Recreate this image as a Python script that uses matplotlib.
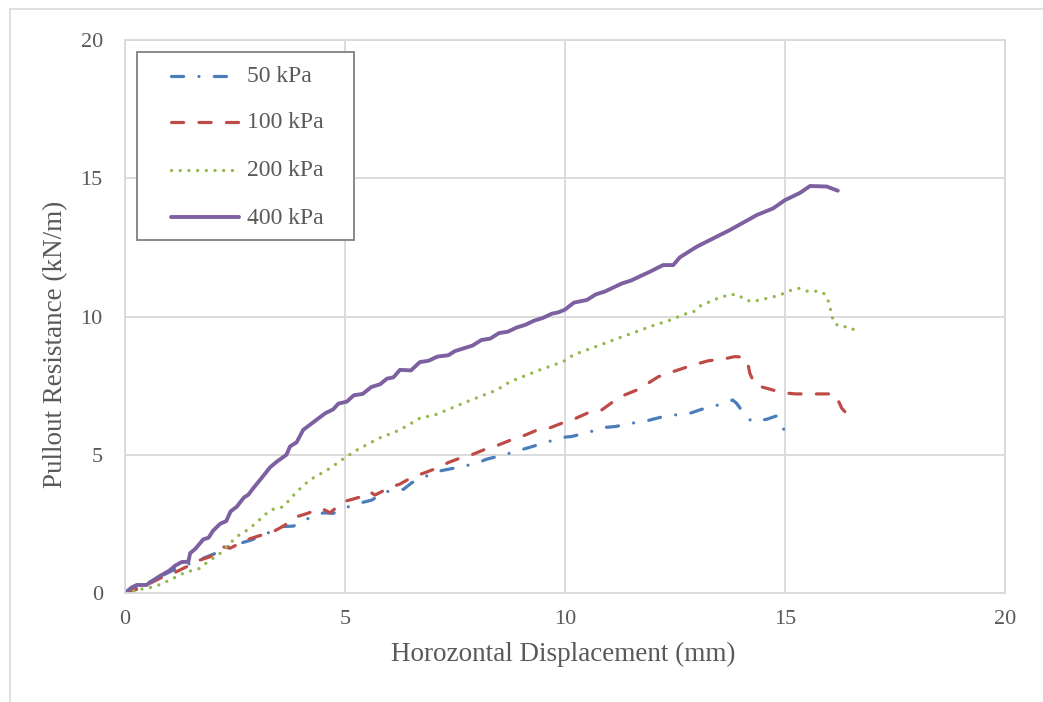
import matplotlib
matplotlib.use("Agg")
import matplotlib.pyplot as plt
from matplotlib.patches import Rectangle
from matplotlib.lines import Line2D

plt.rcParams["font.family"] = ["Liberation Serif", "DejaVu Serif"]

# Pullout test curves: horizontal displacement (mm) vs pullout resistance (kN/m)
disp_50 = [0.0, 0.49, 0.87, 1.10, 1.48, 1.86, 2.05, 2.23, 2.88, 3.26, 3.52, 3.83, 4.17, 4.51,
           4.73, 5.08, 5.38, 5.61, 5.91, 6.33, 6.52, 6.74, 7.08, 7.65, 7.99, 8.22, 8.60, 8.94,
           9.20, 9.55, 9.96, 10.15, 10.53, 10.91, 11.14, 11.52, 11.89, 12.16, 12.50, 12.84,
           13.10, 13.48, 13.81, 13.90, 14.01, 14.24, 14.58, 14.80, 14.85, 15.00]
res_50 = [0.0, 0.35, 0.65, 0.83, 1.07, 1.31, 1.43, 1.62, 1.92, 2.18, 2.40, 2.42, 2.70, 2.90,
          2.88, 3.12, 3.27, 3.36, 3.66, 3.75, 3.99, 4.15, 4.39, 4.57, 4.69, 4.84, 4.99, 5.15,
          5.27, 5.44, 5.63, 5.66, 5.81, 5.99, 6.02, 6.14, 6.24, 6.35, 6.44, 6.50,
          6.64, 6.80, 6.98, 6.86, 6.62, 6.20, 6.28, 6.40, 6.32, 5.83]

disp_100 = [0.0, 0.34, 0.64, 0.87, 1.17, 1.40, 1.70, 1.93, 2.23, 2.39, 2.76, 2.99, 3.37, 3.60,
            3.90, 4.09, 4.47, 4.66, 4.96, 5.19, 5.49, 5.57, 5.68, 6.02, 6.25, 6.55, 6.78, 7.08,
            7.35, 7.65, 7.88, 8.22, 8.48, 8.83, 9.05, 9.36, 9.62, 9.96, 10.19, 10.53, 10.80,
            11.06, 11.29, 11.63, 11.82, 12.12, 12.35, 12.69, 12.92, 13.26, 13.56, 13.86, 14.05,
            14.14, 14.20, 14.32, 14.66, 14.92, 15.23, 15.53, 15.87, 16.14, 16.17, 16.29, 16.36]
res_100 = [0.0, 0.17, 0.41, 0.59, 0.77, 0.95, 1.19, 1.31, 1.67, 1.62, 1.92, 2.04, 2.22, 2.42,
           2.76, 2.85, 3.06, 2.90, 3.30, 3.40, 3.54, 3.66, 3.54, 3.82, 3.94, 4.21, 4.33, 4.51,
           4.72, 4.90, 5.00, 5.22, 5.35, 5.57, 5.68, 5.89, 5.95, 6.16, 6.28, 6.52, 6.58,
           6.88, 7.12, 7.34, 7.52, 7.82, 7.95, 8.13, 8.25, 8.40, 8.45, 8.55, 8.53,
           8.43, 7.95, 7.52, 7.37, 7.25, 7.20, 7.20, 7.20, 7.20, 7.10, 6.68, 6.56]

disp_200 = [0.0, 0.34, 0.68, 1.02, 1.36, 1.70, 1.86, 2.16, 2.54, 2.84, 3.30, 3.60, 3.90, 4.20,
            4.66, 4.92, 5.27, 5.76, 6.25, 6.70, 7.08, 7.23, 7.77, 8.45, 8.75, 9.43, 9.96, 10.19,
            11.10, 12.00, 12.39, 12.73, 12.92, 13.07, 13.41, 13.75, 13.94, 14.09, 14.27, 14.62,
            14.81, 14.98, 15.15, 15.33, 15.49, 15.68, 15.87, 15.97, 16.02, 16.06, 16.12, 16.27,
            16.45, 16.61]
res_200 = [0.0, 0.13, 0.23, 0.47, 0.74, 0.89, 1.10, 1.43, 2.04, 2.34, 3.00, 3.12, 3.66, 4.09,
           4.51, 4.81, 5.17, 5.59, 5.90, 6.32, 6.46, 6.56, 6.92, 7.34, 7.64, 8.07, 8.37, 8.61,
           9.15, 9.67, 9.87, 10.09, 10.17, 10.38, 10.62, 10.80, 10.78, 10.60, 10.54, 10.67,
           10.74, 10.84, 10.96, 11.02, 10.92, 10.92, 10.86, 10.62, 10.36, 10.05, 9.75, 9.63,
           9.63, 9.48]

disp_400 = [0.0, 0.15, 0.27, 0.49, 0.60, 0.80, 1.00, 1.15, 1.29, 1.44, 1.48, 1.60, 1.78, 1.90,
            2.00, 2.16, 2.30, 2.40, 2.54, 2.70, 2.80, 2.92, 3.10, 3.30, 3.45, 3.67, 3.75, 3.90,
            4.05, 4.30, 4.55, 4.73, 4.85, 5.04, 5.20, 5.40, 5.60, 5.80, 5.95, 6.10, 6.25, 6.50,
            6.70, 6.90, 7.10, 7.35, 7.50, 7.70, 7.90, 8.10, 8.30, 8.50, 8.70, 8.90, 9.10, 9.30,
            9.50, 9.70, 9.85, 10.00, 10.20, 10.50, 10.70, 10.90, 11.10, 11.30, 11.50, 11.70,
            11.93, 12.23, 12.46, 12.61, 12.69, 12.99, 13.30, 13.75, 14.36, 14.73, 15.00, 15.34,
            15.57, 15.95, 16.20]
res_400 = [0.0, 0.20, 0.29, 0.29, 0.42, 0.62, 0.80, 1.00, 1.12, 1.13, 1.44, 1.60, 1.94, 2.00,
           2.25, 2.50, 2.60, 2.95, 3.12, 3.45, 3.55, 3.80, 4.15, 4.55, 4.75, 5.00, 5.30, 5.45,
           5.90, 6.20, 6.50, 6.64, 6.85, 6.92, 7.15, 7.20, 7.45, 7.55, 7.75, 7.80, 8.07, 8.05,
           8.35, 8.40, 8.55, 8.60, 8.75, 8.85, 8.95, 9.15, 9.20, 9.40, 9.45, 9.60, 9.70, 9.85,
           9.95, 10.10, 10.15, 10.25, 10.50, 10.60, 10.80, 10.90, 11.05, 11.20, 11.30, 11.45,
           11.62, 11.86, 11.86, 12.14, 12.22, 12.52, 12.77, 13.13, 13.67, 13.91, 14.21, 14.47,
           14.72, 14.70, 14.55]

labels = ["50 kPa", "100 kPa", "200 kPa", "400 kPa"]
ticks = [0, 5, 10, 15, 20]

grey_text = "#595959"
grid_grey = "#d9d9d9"

W, H = 1043, 702
fig = plt.figure(figsize=(W / 100, H / 100), dpi=100)
ax = fig.add_axes([125 / W, 1 - 593 / H, 880 / W, 553 / H])


def fx(px):
    return px / W


def fy(py):
    return 1 - py / H


# outer chart-area frame
fig.patches.append(Rectangle((fx(10), -0.05), 1.1, fy(9) + 0.05,
                             transform=fig.transFigure, fill=False,
                             edgecolor=grid_grey, linewidth=1.2, zorder=0))

styles = [
    dict(color="#4A7EBB", lw=2.3, dashes=(3.8, 4.8, 0.01, 4.8),
         dash_capstyle="round", solid_capstyle="round"),
    dict(color="#BE4B48", lw=2.3, dashes=(3.8, 4.8), dash_capstyle="round"),
    dict(color="#94B84E", lw=2.4, dashes=(0.01, 2.6), dash_capstyle="round"),
    dict(color="#7D60A0", lw=2.8, solid_capstyle="round"),
]
series = [(disp_50, res_50), (disp_100, res_100), (disp_200, res_200), (disp_400, res_400)]

for (xs, ys), st, lab in zip(series, styles, labels):
    ax.plot(xs, ys, label=lab, **st)

ax.set_xlim(0, 20)
ax.set_ylim(0, 20)
ax.set_xticks(ticks)
ax.set_yticks(ticks)
ax.grid(True, color=grid_grey, linewidth=1.3)
ax.set_axisbelow(True)
for sp in ax.spines.values():
    sp.set_color(grid_grey)
    sp.set_linewidth(1.3)
ax.tick_params(length=0, labelsize=16, labelcolor=grey_text)
ax.tick_params(axis="y", pad=16)
ax.tick_params(axis="x", pad=12)

ax.set_xlabel("Horozontal Displacement (mm)", fontsize=19.5, color=grey_text)
ax.set_ylabel("Pullout Resistance (kN/m)", fontsize=19.5, color=grey_text)
ax.xaxis.set_label_coords(0.498, (593 - 642) / 553)
ax.yaxis.set_label_coords((68 - 125) / 880, (593 - 344) / 553)

# legend box with sample lines and labels
fig.patches.append(Rectangle((fx(137), fy(240)), fx(354) - fx(137), fy(52) - fy(240),
                             transform=fig.transFigure, facecolor="white",
                             edgecolor="#808080", linewidth=1.3, zorder=5))
row_y = [76, 122, 170, 217]
for yy, st, lab in zip(row_y, styles, labels):
    fig.add_artist(Line2D([fx(171), fx(239)], [fy(yy), fy(yy)],
                          transform=fig.transFigure, zorder=6, **st))
    fig.text(fx(247), fy(yy + 1), lab, fontsize=17, color=grey_text,
             ha="left", va="center", zorder=7)

fig.savefig("out.png", dpi=100)
